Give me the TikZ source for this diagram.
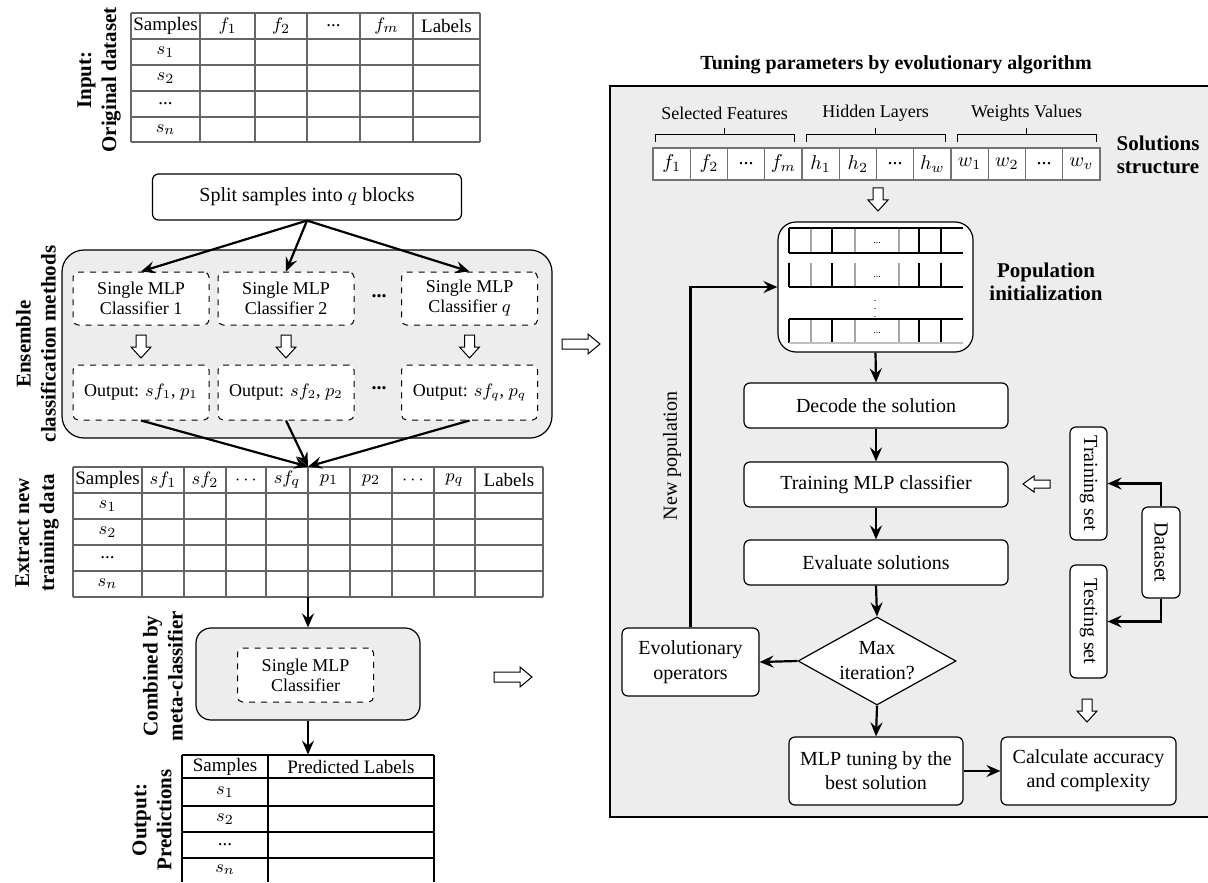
\documentclass[tikz,border=0pt]{standalone}
\usepackage{fontspec}
\setmainfont{Liberation Serif}
\usetikzlibrary{arrows.meta, shapes.geometric, positioning}

\definecolor{panelgray}{HTML}{EDEDED}
\newcommand{\tdots}{...}

\tikzset{
  box/.style={draw, line width=0.6pt, rounded corners=3pt, fill=white, align=center,
    inner sep=0pt, font=\fontsize{10}{12}\selectfont},
  dbox/.style={draw, dashed, line width=0.5pt, rounded corners=2.5pt, fill=white,
    align=center, inner sep=0pt, minimum width=68pt, font=\fontsize{9}{10}\selectfont},
  grp/.style={draw, line width=0.6pt, fill=panelgray, inner sep=0pt},
  setbox/.style={box, rotate=-90, minimum width=56.5pt, minimum height=18.5pt},
  sidelbl/.style={rotate=90, align=center, inner sep=0pt,
    font=\fontsize{10.5}{12.5}\selectfont\bfseries},
  arr/.style={line width=1.1pt, -{Stealth[length=7pt, width=6pt, inset=2.5pt]}},
  tline/.style={line width=1pt, draw=black!60},
  oline/.style={line width=0.8pt, draw=black},
  tablebox/.style={inner sep=0pt, draw=none},
  celltxt/.style={inner sep=0pt, font=\fontsize{9.5}{11}\selectfont},
  solcell/.style={draw=black!55, line width=0.6pt, fill=white, inner sep=0pt,
    minimum width=18.6pt, minimum height=16pt, font=\fontsize{10}{12}\selectfont},
  harrowdown/.pic={\draw[fill=white, line width=0.5pt] (-5,0) -- (5,0) -- (5,12) -- (10,12)
    -- (0,23) -- (-10,12) -- (-5,12) -- cycle;},
  harrowright/.pic={\draw[fill=white, line width=0.5pt] (0,-5) -- (26,-5) -- (26,-10)
    -- (38,0) -- (26,10) -- (26,5) -- (0,5) -- cycle;},
  harrowleft/.pic={\draw[fill=white, line width=0.5pt] (0,-4) -- (-16,-4) -- (-16,-8)
    -- (-27,0) -- (-16,8) -- (-16,4) -- (0,4) -- cycle;}
}

\begin{document}
\begin{tikzpicture}[x=0.5pt, y=-0.5pt]
\useasboundingbox (0,0) rectangle (1208,882);

% ---------------- left column
% input table
\node[tablebox, minimum width=174.5pt, minimum height=64.5pt] (tabIn) at (307,77.5) {};
\foreach \x in {131,200,255,307,360,413,480} \draw[tline] (\x,13) -- (\x,142);
\foreach \y in {13,39,65,91,117,142} \draw[tline] (131,\y) -- (480,\y);
\foreach \cx/\t [count=\i] in {165.5/Samples, 227.5/$f_1$, 281/$f_2$, 333.5/\tdots, 386.5/$f_m$, 446.5/Labels}
  \node[celltxt] (inh\i) at (\cx,26) {\t};
\foreach \cy/\t [count=\i] in {52/$s_1$, 78/$s_2$, 104/\tdots, 129.5/$s_n$}
  \node[celltxt] (inr\i) at (165.5,\cy) {\t};
\node[sidelbl] (lblIn) at (99,80) {Input:\\Original dataset};

\node[box, minimum width=154.5pt, minimum height=23pt] (split) at (307,197)
  {Split samples into $q$ blocks};

% ensemble of classifiers
\node[grp, rounded corners=11pt, minimum width=245pt, minimum height=94pt] (ens) at (307,344) {};
\node[dbox, minimum height=26.5pt] (c1) at (141,298.5) {Single MLP\\Classifier 1};
\node[dbox, minimum height=26.5pt] (c2) at (286,298.5) {Single MLP\\Classifier 2};
\node[dbox, minimum height=26.5pt] (c3) at (469.5,298.5) {Single MLP\\Classifier $q$};
\node[dbox, minimum height=27.5pt] (o1) at (141,392.5) {Output: $sf_1$, $p_1$};
\node[dbox, minimum height=27.5pt] (o2) at (286,392.5) {Output: $sf_2$, $p_2$};
\node[dbox, minimum height=27.5pt] (o3) at (469.5,392.5) {Output: $sf_q$, $p_q$};
\node[font=\bfseries] (cdots) at (379,296) {\tdots};
\node[font=\bfseries] (odots) at (379,388) {\tdots};
\foreach \x in {141,286,469.5} \pic at (\x,335) {harrowdown};
\node[sidelbl] (lblEns) at (36,344) {Ensemble\\classification methods};

\draw[arr] (split.south) -- (c1.north);
\draw[arr] (split.south) -- (c2.north);
\draw[arr] (split.south) -- (c3.north);

% new training data
\node[tablebox, minimum width=235pt, minimum height=65pt] (tabMid) at (308,532) {};
\foreach \x in {73,142,184,226,266,308,350,392,434,475,543} \draw[tline] (\x,467) -- (\x,597);
\foreach \y in {467,493,519,545,571,597} \draw[tline] (73,\y) -- (543,\y);
\foreach \cx/\t [count=\i] in {107.5/Samples, 163/$sf_1$, 205/$sf_2$, 246/$\cdots$, 287/$sf_q$,
    329/$p_1$, 371/$p_2$, 413/$\cdots$, 454.5/$p_q$, 509/Labels}
  \node[celltxt] (mdh\i) at (\cx,480) {\t};
\foreach \cy/\t [count=\i] in {506/$s_1$, 532/$s_2$, 558/\tdots, 584/$s_n$}
  \node[celltxt] (mdr\i) at (107.5,\cy) {\t};
\node[sidelbl] (lblMid) at (37,533) {Extract new\\training data};

\draw[arr] (o1.south) -- (tabMid.north);
\draw[arr] (o2.south) -- (tabMid.north);
\draw[arr] (o3.south) -- (tabMid.north);

% meta-classifier
\node[grp, rounded corners=7.5pt, minimum width=112pt, minimum height=46pt] (meta) at (308,674) {};
\node[dbox, minimum height=27pt] (metain) at (305.5,675) {Single MLP\\Classifier};
\node[sidelbl] (lblMeta) at (163,676) {Combined by\\meta-classifier};
\draw[arr] (tabMid.south) -- (meta.north);

% predictions
\node[tablebox, minimum width=126pt, minimum height=63.5pt] (tabOut) at (308,818.5) {};
\foreach \x in {182,268,434} \draw[oline] (\x,755) -- (\x,882);
\foreach \y in {755,778,806,832,858} \draw[oline] (182,\y) -- (434,\y);
\node[celltxt] (outh1) at (225,766.5) {Samples};
\node[celltxt] (outh2) at (351,766.5) {Predicted Labels};
\foreach \cy/\t [count=\i] in {792/$s_1$, 819/$s_2$, 845/\tdots, 870/$s_n$}
  \node[celltxt] (outr\i) at (225,\cy) {\t};
\node[sidelbl] (lblOut) at (152,820) {Output:\\Predictions};
\draw[arr] (meta.south) -- (tabOut.north);

\pic at (562,344) {harrowright};
\pic at (494,677) {harrowright};

% ---------------- right panel
\node[font=\fontsize{10}{12}\selectfont\bfseries] (title) at (896,65)
  {Tuning parameters by evolutionary algorithm};
\draw[grp] (610,86) rectangle (1214,817);

% solution structure
\foreach \t [count=\i] in {$f_1$,$f_2$,\tdots,$f_m$,$h_1$,$h_2$,\tdots,$h_w$,$w_1$,$w_2$,\tdots,$w_v$}
  \node[solcell] (sc\i) at ({653+37.25*(\i-0.5)},164) {\t};
\foreach \a/\b/\t in {655/794/Selected Features, 806/945/Hidden Layers, 957/1096/Weights Values} {
  \draw[line width=0.5pt] (\a,142) |- ({(\a+\b)/2},135) -- ({(\a+\b)/2},128)
    ({(\a+\b)/2},135) -| (\b,142);
  \node[font=\fontsize{9}{11}\selectfont] at ({(\a+\b)/2},113) {\t};
}
\node[align=center, font=\fontsize{10.5}{11.5}\selectfont\bfseries] (solstr) at (1158,155)
  {Solutions\\structure};
\pic at (878,188) {harrowdown};

% population
\node[draw, line width=0.6pt, fill=white, rounded corners=9pt, minimum width=97.5pt,
  minimum height=65pt] (pop) at (875.5,287) {};
\foreach \ya/\yb in {228/253, 263/287, 319/343} {
  \foreach \x/\c in {789/black, 811/black!35, 832/black, 855/black!35, 899/black!35, 919/black, 941/black}
    \draw[line width=0.8pt, draw=\c] (\x,\ya) -- (\x,\yb);
  \node[font=\tiny, inner sep=0pt] at (877,{\yb-10}) {\tdots};
}
\foreach \y/\c in {228/black, 253/black, 287/black, 319/black, 343/black!25}
  \draw[line width=1pt, draw=\c] (789,\y) -- (963,\y);
\node[font=\tiny, inner sep=0pt] (vdots) at (875,303) {$\vdots$};
\node[align=center, font=\fontsize{10.5}{11.5}\selectfont\bfseries] (popinit) at (1046,282)
  {Population\\initialization};

% main loop
\node[box, minimum width=132pt, minimum height=22.5pt] (decode) at (876,405.5) {Decode the solution};
\node[box, minimum width=132pt, minimum height=22.5pt] (train) at (876,484.5) {Training MLP classifier};
\node[box, minimum width=132pt, minimum height=22.5pt] (eval) at (876,562.5) {Evaluate solutions};
\node[draw, diamond, line width=0.6pt, fill=white, inner sep=0pt, minimum width=79pt,
  minimum height=44pt] (maxit) at (877,661) {};
\node[align=center, font=\fontsize{10}{12.5}\selectfont] (maxittxt) at (maxit) {Max\\iteration?};
\node[box, minimum width=68.5pt, minimum height=34pt, font=\fontsize{10}{12.5}\selectfont]
  (evo) at (690.5,662) {Evolutionary\\operators};
\node[box, minimum width=87pt, minimum height=34pt] (tune) at (876,771) {MLP tuning by the\\best solution};
\node[box, minimum width=87.5pt, minimum height=34pt] (calc) at (1088.5,771) {Calculate accuracy\\and complexity};

% data sets
\node[setbox] (trset) at (1088.5,483.5) {Training set};
\node[setbox] (teset) at (1088.5,621.5) {Testing set};
\node[setbox, minimum width=45.5pt, minimum height=19pt] (dset) at (1161,552.5) {Dataset};
\pic at (1050,484) {harrowleft};
\pic at (1087,699) {harrowdown};

\draw[arr] (pop.south) -- (decode.north);
\draw[arr] (decode) -- (train);
\draw[arr] (train) -- (eval);
\draw[arr] (eval.south) -- (maxit.north);
\draw[arr] (maxit.west) -- (evo.east);
\draw[arr] (maxit.south) -- (tune.north);
\draw[arr] (tune.east) -- (calc.west);
\draw[arr] (evo.north) |- (pop.west);
\draw[arr] (dset.west) |- (trset.north);
\draw[arr] (dset.east) |- (teset.north);
\node[rotate=90, font=\fontsize{10}{12}\selectfont] (newpop) at (672,456) {New population};

\end{tikzpicture}
\end{document}
